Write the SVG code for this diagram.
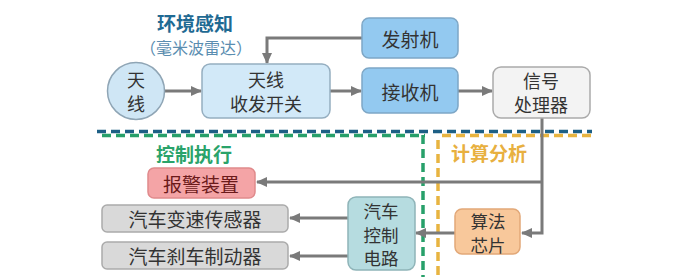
<svg xmlns="http://www.w3.org/2000/svg" width="677" height="277" viewBox="0 0 677 277">
<defs>
<marker id="ah" markerWidth="12" markerHeight="12" refX="10" refY="6" orient="auto" markerUnits="userSpaceOnUse">
<path d="M0,1 L11,6 L0,11 Z" fill="#7a7a7a"/>
</marker>
<style>
text{font-family:"Noto Sans CJK SC","Noto Sans",sans-serif;font-size:19px;text-anchor:middle;dominant-baseline:central;fill:#333}
.conn path{fill:none;stroke:#7a7a7a;stroke-width:3}
.arr{marker-end:url(#ah)}
.box{stroke-width:1.5}
.h{font-weight:bold}
.s{font-size:17.5px}
.m{font-size:18px}
</style>
</defs>
<rect width="677" height="277" fill="#ffffff"/>
<g id="dividers" fill="none" stroke-width="3.5">
<path d="M97,131.5 H592" stroke="#1d5f85" stroke-dasharray="9,5"/>
<path d="M97,135.5 H425" stroke="#27a06a" stroke-dasharray="9,5" stroke-dashoffset="-5"/>
<path d="M423,135 V277" stroke="#27a06a" stroke-dasharray="9,5"/>
<path d="M437,135.5 H592" stroke="#e8b440" stroke-dasharray="9,5" stroke-dashoffset="-5"/>
<path d="M438,140 V277" stroke="#e8b440" stroke-dasharray="9,5"/>
</g>
<g id="labels">
<text x="195" y="22" class="h" style="fill:#1f6a93">环境感知</text>
<text x="196" y="47" style="fill:#5a8db0;font-size:16px">（毫米波雷达）</text>
<text x="194" y="153" class="h" style="fill:#2aa36a">控制执行</text>
<text x="489" y="152" class="h" style="fill:#e8b040">计算分析</text>
</g>
<g class="conn" id="connectors">
<path class="arr" d="M165,91 H201"/>
<path class="arr" d="M362,38 H267 V63"/>
<path class="arr" d="M330,91 H361"/>
<path class="arr" d="M458,91 H492"/>
<path class="arr" d="M542,118 V233 H522"/>
<path class="arr" d="M542,182 H257"/>
<path class="arr" d="M455,233 H416"/>
<path class="arr" d="M348,218 H290"/>
<path class="arr" d="M348,256 H290"/>
</g>
<g id="antenna">
<circle cx="136" cy="91" r="28.5" fill="#cfe6f5" stroke="#8fa5b5" class="box"/>
<text x="136" y="78.5" class="m">天<tspan x="136" dy="24.5">线</tspan></text>
</g>
<g id="switch">
<rect x="202" y="64" width="128" height="54" rx="8" fill="#d2e9f8" stroke="#95aec0" class="box"/>
<text x="266" y="78.5" class="m">天线<tspan x="266" dy="24.5">收发开关</tspan></text>
</g>
<g id="transmitter">
<rect x="362" y="18" width="96" height="40" rx="7" fill="#93c9f0" stroke="#7ea7c6" class="box"/>
<text x="410" y="38">发射机</text>
</g>
<g id="receiver">
<rect x="362" y="68" width="96" height="45" rx="7" fill="#93c9f0" stroke="#7ea7c6" class="box"/>
<text x="410" y="91">接收机</text>
</g>
<g id="processor">
<rect x="493" y="67" width="97" height="51" rx="8" fill="#f3f3f3" stroke="#aaaaaa" class="box"/>
<text x="541" y="79.5" class="m">信号<tspan x="541" dy="24.5">处理器</tspan></text>
</g>
<g id="alarm">
<rect x="148" y="168" width="107" height="30" rx="6" fill="#f4a4a6" stroke="#e08a8c" class="box"/>
<text x="201" y="183" style="fill:#6b1a1a">报警装置</text>
</g>
<g id="speed-sensor">
<rect x="102" y="205" width="186" height="27" rx="5" fill="#d9d9d9" stroke="#ababab" class="box"/>
<text x="195" y="218.5">汽车变速传感器</text>
</g>
<g id="brake">
<rect x="102" y="242" width="186" height="27" rx="5" fill="#d9d9d9" stroke="#ababab" class="box"/>
<text x="195" y="255.5">汽车刹车制动器</text>
</g>
<g id="control-circuit">
<rect x="348" y="197" width="67" height="73" rx="8" fill="#b6dce0" stroke="#8fb4b8" class="box"/>
<text x="381" y="210" class="s">汽车<tspan x="381" dy="23.5">控制</tspan><tspan x="381" dy="23.5">电路</tspan></text>
</g>
<g id="algorithm-chip">
<rect x="455" y="209" width="65" height="45" rx="7" fill="#f8c89b" stroke="#e2a878" class="box"/>
<text x="488" y="220" class="s">算法<tspan x="488" dy="24">芯片</tspan></text>
</g>
</svg>
